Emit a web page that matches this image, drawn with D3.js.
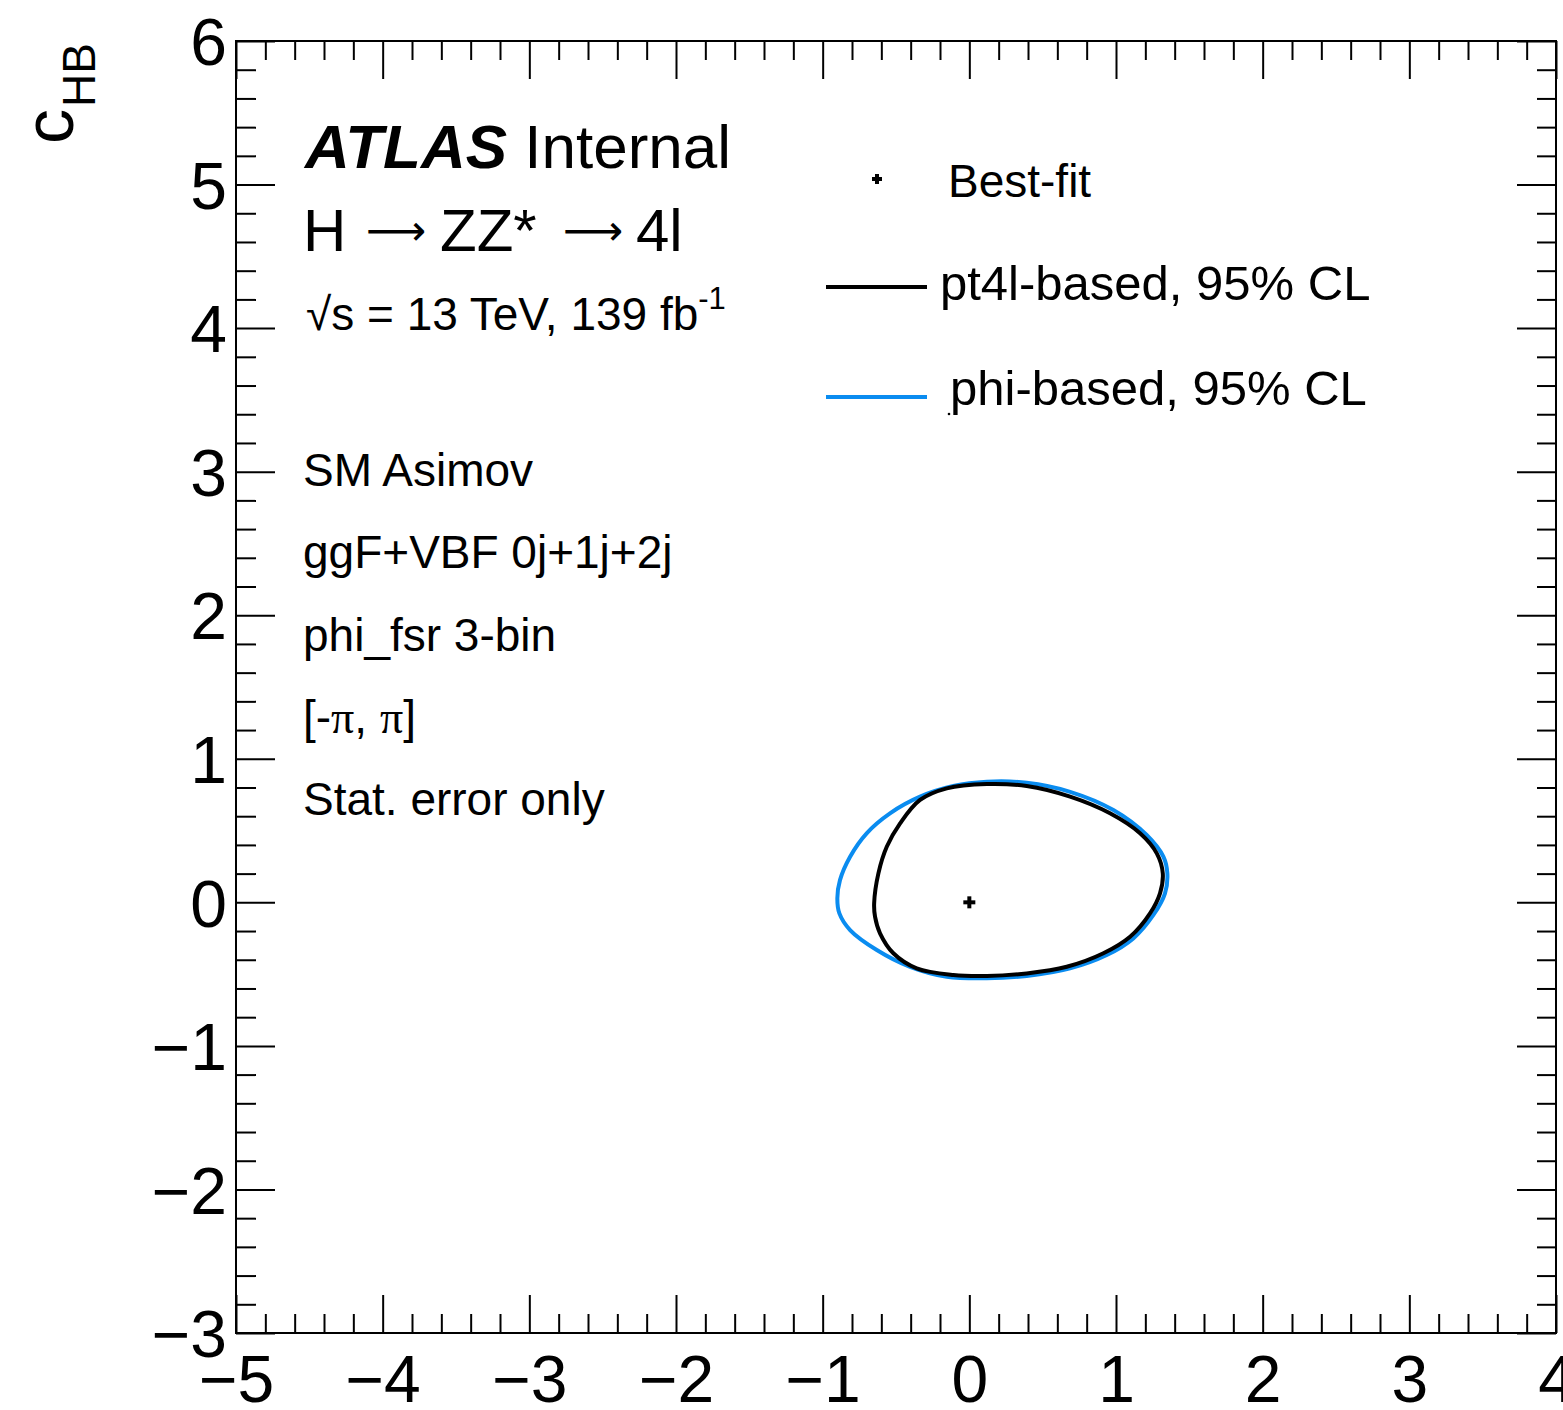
<!DOCTYPE html>
<html>
  <head>
    <meta charset="utf-8">
    <script type="text/javascript" src="https://d3js.org/d3.v7.min.js"></script>
    <title>cHB contours</title>
  </head>
  <style media="screen">
    body { margin: 0; background: #fff; }
    text { font-family: "Liberation Sans", Arial, Helvetica, sans-serif; fill: #000; }
  </style>
  <body>

    <script type="text/javascript">

    // ---- data ----
    var xTicks = [-5, -4, -3, -2, -1, 0, 1, 2, 3, 4];
    var yTicks = [-3, -2, -1, 0, 1, 2, 3, 4, 5, 6];
    var xTickLabels = ["\u22125", "\u22124", "\u22123", "\u22122", "\u22121", "0", "1", "2", "3", "4"];
    var yTickLabels = ["\u22123", "\u22122", "\u22121", "0", "1", "2", "3", "4", "5", "6"];

    var bestFit = [0, 0];

    // pt4l-based 95% CL contour
    var pt4lContour = [
      [-0.649, -0.007], [-0.620, 0.202], [-0.563, 0.387], [-0.472, 0.550], [-0.336, 0.713],
      [-0.154, 0.794], [0.119, 0.824], [0.391, 0.810], [0.687, 0.736], [0.959, 0.620],
      [1.164, 0.481], [1.278, 0.341], [1.319, 0.202], [1.300, 0.063], [1.232, -0.077],
      [1.096, -0.240], [0.914, -0.355], [0.664, -0.449], [0.391, -0.495], [0.119, -0.513],
      [-0.109, -0.506], [-0.359, -0.460], [-0.518, -0.355], [-0.609, -0.216], [-0.643, -0.100]
    ];

    // phi-based 95% CL contour
    var phiContour = [
      [-0.900, 0.028], [-0.882, 0.155], [-0.813, 0.318], [-0.700, 0.481], [-0.541, 0.620],
      [-0.336, 0.736], [-0.109, 0.810], [0.119, 0.840], [0.391, 0.833], [0.687, 0.770],
      [0.982, 0.643], [1.209, 0.469], [1.323, 0.318], [1.350, 0.202], [1.334, 0.063],
      [1.255, -0.088], [1.118, -0.251], [0.937, -0.367], [0.687, -0.460], [0.391, -0.513],
      [0.119, -0.529], [-0.154, -0.518], [-0.404, -0.449], [-0.631, -0.332], [-0.813, -0.193],
      [-0.886, -0.077]
    ];

    var infoLines = ["SM Asimov", "ggF+VBF 0j+1j+2j", "phi_fsr 3-bin", null, "Stat. error only"];

    var legendEntries = [
      {label: "Best-fit", type: "marker"},
      {label: "pt4l-based, 95% CL", type: "line", color: "#000000"},
      {label: "phi-based, 95% CL", type: "line", color: "#0a8cf0"}
    ];

    // ---- layout ----
    var margin = {top: 41, right: 7, bottom: 77, left: 236},
        width = 1563 - margin.left - margin.right,
        height = 1410 - margin.top - margin.bottom;

    var x = d3.scaleLinear().domain([-5, 4]).range([0, width]);
    var y = d3.scaleLinear().domain([-3, 6]).range([height, 0]);

    var minorX = d3.range(-5, 4.001, 0.2).map(function(d) { return +d.toFixed(1); })
      .filter(function(d) { return Math.abs(d - Math.round(d)) > 1e-6; });
    var minorY = d3.range(-3, 6.001, 0.2).map(function(d) { return +d.toFixed(1); })
      .filter(function(d) { return Math.abs(d - Math.round(d)) > 1e-6; });

    var svg = d3.select("body").append("svg")
        .attr("width", 1563)
        .attr("height", 1410)
      .append("g")
        .attr("transform", "translate(" + margin.left + "," + margin.top + ")");

    function styleAxis(g) {
      g.select(".domain").remove();
      g.selectAll(".tick line").attr("stroke", "#000").attr("stroke-width", 2);
    }

    // bottom axis, labels
    svg.append("g")
        .attr("transform", "translate(0," + height + ")")
        .call(d3.axisBottom(x).tickValues(xTicks).tickSize(-38).tickPadding(22)
          .tickFormat(function(d, i) { return xTickLabels[i]; }))
        .call(styleAxis)
        .selectAll("text").attr("font-size", 66).attr("font-family", "Liberation Sans, Arial, sans-serif");

    svg.append("g")
        .attr("transform", "translate(0," + height + ")")
        .call(d3.axisBottom(x).tickValues(minorX).tickSize(-19).tickFormat(""))
        .call(styleAxis);

    // top axis
    svg.append("g")
        .call(d3.axisTop(x).tickValues(xTicks).tickSize(-38).tickFormat(""))
        .call(styleAxis);
    svg.append("g")
        .call(d3.axisTop(x).tickValues(minorX).tickSize(-19).tickFormat(""))
        .call(styleAxis);

    // left axis, labels
    svg.append("g")
        .call(d3.axisLeft(y).tickValues(yTicks).tickSize(-39).tickPadding(9)
          .tickFormat(function(d, i) { return yTickLabels[i]; }))
        .call(styleAxis)
        .selectAll("text").attr("font-size", 66).attr("dy", "0.36em")
          .attr("font-family", "Liberation Sans, Arial, sans-serif");

    svg.append("g")
        .call(d3.axisLeft(y).tickValues(minorY).tickSize(-20).tickFormat(""))
        .call(styleAxis);

    // right axis
    svg.append("g")
        .attr("transform", "translate(" + width + ",0)")
        .call(d3.axisRight(y).tickValues(yTicks).tickSize(-39).tickFormat(""))
        .call(styleAxis);
    svg.append("g")
        .attr("transform", "translate(" + width + ",0)")
        .call(d3.axisRight(y).tickValues(minorY).tickSize(-19).tickFormat(""))
        .call(styleAxis);

    // frame
    svg.append("rect")
        .attr("x", 0).attr("y", 0)
        .attr("width", width).attr("height", height)
        .attr("fill", "none")
        .attr("stroke", "#000")
        .attr("stroke-width", 2);

    // contours
    var contourLine = d3.line()
      .curve(d3.curveCatmullRomClosed.alpha(0.5))
      .x(function(d) { return x(d[0]); })
      .y(function(d) { return y(d[1]); });

    svg.append("path")
        .datum(phiContour)
        .attr("d", contourLine)
        .attr("fill", "none")
        .attr("stroke", legendEntries[2].color)
        .attr("stroke-width", 4);

    svg.append("path")
        .datum(pt4lContour)
        .attr("d", contourLine)
        .attr("fill", "none")
        .attr("stroke", legendEntries[1].color)
        .attr("stroke-width", 4);

    // best-fit cross
    function cross(g, cx, cy, r) {
      g.append("line").attr("x1", cx - r).attr("x2", cx + r).attr("y1", cy).attr("y2", cy)
        .attr("stroke", "#000").attr("stroke-width", 4);
      g.append("line").attr("x1", cx).attr("x2", cx).attr("y1", cy - r).attr("y2", cy + r)
        .attr("stroke", "#000").attr("stroke-width", 4);
    }
    cross(svg, x(bestFit[0]), y(bestFit[1]), 6);

    // ---- texts (page coordinates) ----
    var page = d3.select("svg");

    // y axis title
    var yt = page.append("text")
        .attr("transform", "translate(73,43) rotate(-90)")
        .attr("text-anchor", "end");
    yt.append("tspan").attr("font-size", 70).text("c");
    yt.append("tspan").attr("font-size", 46).attr("dy", 22).attr("dx", 2).text("HB");

    // ATLAS Internal
    var at = page.append("text").attr("x", 305).attr("y", 168).attr("font-size", 62);
    at.append("tspan").attr("font-weight", "bold").attr("font-style", "italic").text("ATLAS");
    at.append("tspan").text(" Internal");

    // H -> ZZ* -> 4l
    var proc = [["H", 303], ["\u27F6", 366], ["ZZ*", 440], ["\u27F6", 563], ["4l", 636]];
    page.selectAll(".proc").data(proc).enter().append("text")
        .attr("class", "proc")
        .attr("x", function(d) { return d[1]; })
        .attr("y", function(d) { return d[0] === "\u27F6" ? 245 : 251; })
        .attr("font-size", function(d) { return d[0] === "\u27F6" ? 42 : 60; })
        .style("font-family", function(d) { return d[0] === "\u27F6" ? "DejaVu Sans, sans-serif" : null; })
        .text(function(d) { return d[0]; });

    // sqrt(s)
    var rs = page.append("text").attr("x", 306).attr("y", 330).attr("font-size", 46);
    rs.append("tspan").text("\u221As = 13 TeV, 139 fb");
    rs.append("tspan").attr("font-size", 31).attr("dy", -21).text("-1");

    // info lines
    page.selectAll(".info").data(infoLines).enter().append("text")
        .attr("class", "info")
        .attr("x", 303)
        .attr("y", function(d, i) { return 486 + i * 82.3; })
        .attr("font-size", 46)
        .text(function(d) { return d; });

    var pi = page.append("text").attr("x", 303).attr("y", 733).attr("font-size", 46);
    pi.append("tspan").text("[-");
    pi.append("tspan").attr("font-family", "Liberation Serif, Times New Roman, serif").text("\u03C0");
    pi.append("tspan").text(", ");
    pi.append("tspan").attr("font-family", "Liberation Serif, Times New Roman, serif").text("\u03C0");
    pi.append("tspan").text("]");

    // legend
    var legY = [179, 287, 397];
    var legTextX = [948, 940, 950];
    var legTextY = [197, 300, 405];
    var legSize = [46, 49, 49];
    legendEntries.forEach(function(e, i) {
      if (e.type === "marker") {
        cross(page, 877, legY[i], 5);
      } else {
        page.append("line")
            .attr("x1", 826).attr("x2", 927)
            .attr("y1", legY[i]).attr("y2", legY[i])
            .attr("stroke", e.color).attr("stroke-width", 4);
      }
      page.append("text")
          .attr("x", legTextX[i]).attr("y", legTextY[i])
          .attr("font-size", legSize[i])
          .text(e.label);
    });
    page.append("circle").attr("cx", 949).attr("cy", 414).attr("r", 1.3).attr("fill", "#000");

    </script>

  </body>
</html>
